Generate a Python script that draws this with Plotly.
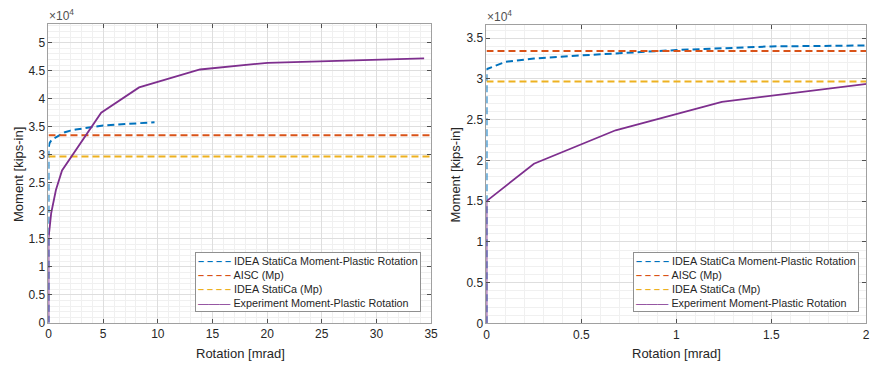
import plotly.graph_objects as go

# ---- data (kips-in vs mrad) ----
rot_idea = [0, 0, 0.1, 0.25, 0.5, 0.75, 1.0, 1.5, 2.0, 2.5, 5.0, 7.5, 9.7]
m_idea = [0, 31200, 32100, 32500, 32900, 33200, 33550, 34000, 34300, 34500, 35200, 35500, 35800]

rot_line = [0, 35]
m_aisc = [33450, 33450]
m_idea_mp = [29700, 29700]

rot_exp = [0, 0, 0.25, 0.68, 1.24, 4.82, 8.29, 13.86, 20.04, 34.36]
m_exp = [0, 15000, 19600, 23700, 27200, 37500, 42000, 45200, 46400, 47200]

names = ["IDEA StatiCa Moment-Plastic Rotation", "AISC (Mp)", "IDEA StatiCa (Mp)",
         "Experiment Moment-Plastic Rotation"]
colors = ["#0072BD", "#D95319", "#EDB120", "#7E2F8E"]
dashed = [True, True, True, False]

left_yticks = [0, 5000, 10000, 15000, 20000, 25000, 30000, 35000, 40000, 45000, 50000]
left_yticktext = ["0", "0.5", "1", "1.5", "2", "2.5", "3", "3.5", "4", "4.5", "5"]
right_yticks = [0, 5000, 10000, 15000, 20000, 25000, 30000, 35000]
right_yticktext = ["0", "0.5", "1", "1.5", "2", "2.5", "3", "3.5"]

W, H = 887, 374
FONT = "Liberation Sans, Arial, Helvetica, sans-serif"
TXT = "#262626"

fig = go.Figure()
series = [(rot_idea, m_idea), (rot_line, m_aisc), (rot_line, m_idea_mp), (rot_exp, m_exp)]
for xa, ya in [("x", "y"), ("x2", "y2")]:
    for (xs, ys), nm, c, d in zip(series, names, colors, dashed):
        fig.add_trace(go.Scatter(
            x=xs, y=ys, mode="lines", name=nm, showlegend=False,
            line=dict(color=c, width=2 if d else 1.8, dash="7px,4px" if d else "solid"),
            xaxis=xa, yaxis=ya))

def xaxis_cfg(domain, rng, dtick, minor_dtick, anchor):
    return dict(domain=domain, range=rng, dtick=dtick, tick0=0, anchor=anchor,
                showline=True, linecolor="#a0a0a0", linewidth=1, mirror="ticks",
                ticks="inside", ticklen=4, tickcolor="#505050",
                showgrid=True, gridcolor="#dedede", gridwidth=1, zeroline=False,
                minor=dict(dtick=minor_dtick, showgrid=True, gridcolor="#f0f0f0", ticks=""),
                tickfont=dict(family=FONT, size=12, color=TXT))

def yaxis_cfg(domain, rng, tickvals, ticktext, anchor):
    return dict(domain=domain, range=rng, tickvals=tickvals, ticktext=ticktext, anchor=anchor,
                showline=True, linecolor="#a0a0a0", linewidth=1, mirror="ticks",
                ticks="inside", ticklen=4, tickcolor="#505050",
                showgrid=True, gridcolor="#dedede", gridwidth=1, zeroline=False,
                minor=dict(dtick=1000, tick0=0, showgrid=True, gridcolor="#f0f0f0", ticks=""),
                tickfont=dict(family=FONT, size=12, color=TXT))

lx = [46 / W, 433 / W]
rx = [489 / W, 873 / W]
ly = [1 - 329 / H, 1 - 24 / H]
ry = [1 - 329.5 / H, 1 - 25.7 / H]

title_font = dict(family=FONT, size=13, color=TXT)
exp_font = dict(family=FONT, size=12, color="#505050")

# legend built as a bordered text block (plotly's native legend rows are too tall here)
key_rows = []
for nm, c, d in zip(names, colors, dashed):
    key = "<b>– – – –</b>" if d else "———"
    key_rows.append(f"<span style='color:{c}'>{key}</span> {nm}")
legend_text = "<br>".join(key_rows)

def legend_ann(x_px, y_px):
    return dict(text=legend_text, xref="paper", yref="paper", x=x_px / W, y=1 - y_px / H,
                xanchor="left", yanchor="top", align="left", showarrow=False,
                bgcolor="white", bordercolor="#909090", borderwidth=1, borderpad=2,
                font=dict(family=FONT, size=10.8, color=TXT))

fig.update_layout(
    width=W, height=H, margin=dict(l=0, r=0, t=0, b=0),
    paper_bgcolor="white", plot_bgcolor="white", showlegend=False,
    xaxis=xaxis_cfg(lx, [0, 35], 5, 1, "y"),
    yaxis=yaxis_cfg(ly, [0, 53400], left_yticks, left_yticktext, "x"),
    xaxis2=xaxis_cfg(rx, [0, 2], 0.5, 0.1, "y2"),
    yaxis2=yaxis_cfg(ry, [0, 36600], right_yticks, right_yticktext, "x2"),
    annotations=[
        dict(text="×10<sup>4</sup>", xref="paper", yref="paper", x=45 / W, y=1 - 25 / H,
             xanchor="left", yanchor="bottom", showarrow=False, font=exp_font),
        dict(text="×10<sup>4</sup>", xref="paper", yref="paper", x=488 / W, y=1 - 26.5 / H,
             xanchor="left", yanchor="bottom", showarrow=False, font=exp_font),
        dict(text="Rotation [mrad]", xref="paper", yref="paper", x=240.5 / W, y=1 - 360 / H,
             xanchor="center", yanchor="middle", showarrow=False, font=title_font),
        dict(text="Rotation [mrad]", xref="paper", yref="paper", x=681.5 / W, y=1 - 360 / H,
             xanchor="center", yanchor="middle", showarrow=False, font=title_font),
        dict(text="Moment [kips-in]", xref="paper", yref="paper", x=15 / W, y=1 - 177.5 / H,
             xanchor="center", yanchor="middle", showarrow=False, textangle=-90, font=title_font),
        dict(text="Moment [kips-in]", xref="paper", yref="paper", x=457.5 / W, y=1 - 178.5 / H,
             xanchor="center", yanchor="middle", showarrow=False, textangle=-90, font=title_font),
        legend_ann(194, 257),
        legend_ann(637, 257),
    ],
)

fig.write_html("out.html", config={"displayModeBar": False},
               post_script="document.body.style.margin='0';document.body.style.overflow='hidden';")
